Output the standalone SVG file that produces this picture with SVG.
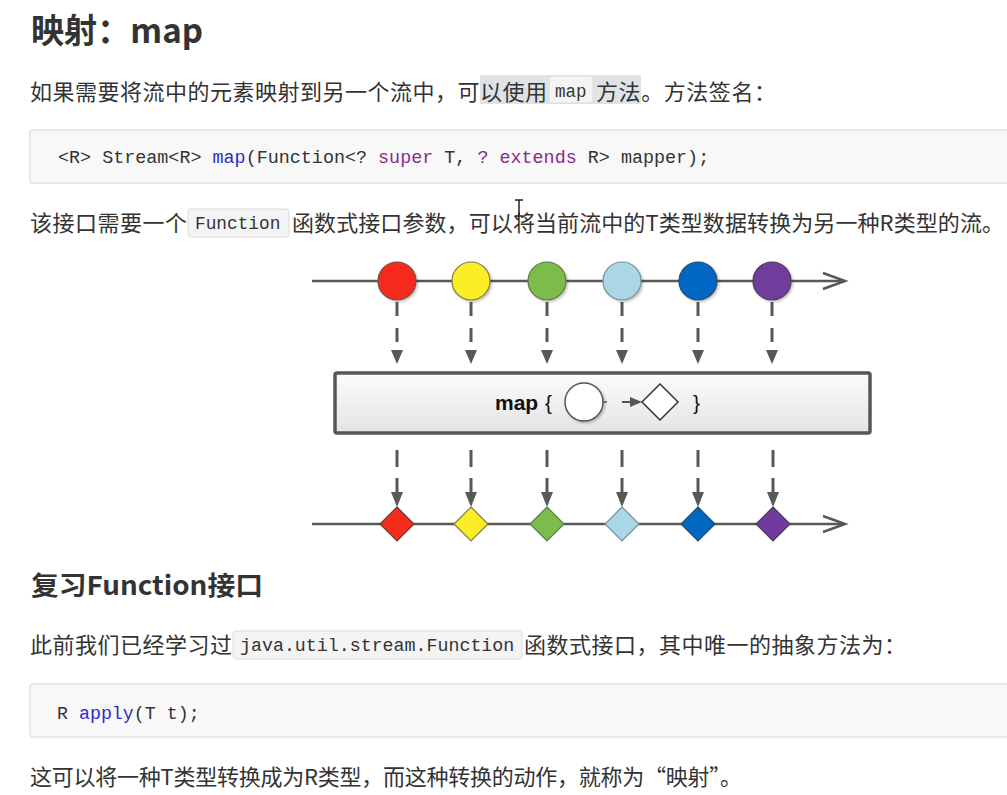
<svg xmlns="http://www.w3.org/2000/svg" width="1007" height="795" viewBox="0 0 1007 795">
<style>
.cjk{font-family:"Noto Sans CJK SC","Liberation Sans",sans-serif;fill:#333;font-size:22px}
.h{font-family:"Noto Sans CJK SC","Liberation Sans",sans-serif;fill:#333;font-weight:bold}
.mono{font-family:"Liberation Mono","DejaVu Sans Mono",monospace;fill:#333}
.kw{fill:#8b2a8b}
.fn{fill:#2b2bc8}
.codeblock{fill:#f8f8f8;stroke:#e2e2e2;stroke-width:1.5}
.inl{fill:#f4f4f4;stroke:#dcdcdc;stroke-width:1}
.flow{stroke:#585858;stroke-width:2.5;fill:none}
.head{fill:none;stroke:#585858;stroke-width:2.5;stroke-linejoin:miter}
.dash{stroke:#585858;stroke-width:3;fill:none}
.tri{fill:#585858}
.mapt{font-family:"Liberation Sans",Arial,sans-serif;fill:#111}
</style>
<defs>
<linearGradient id="boxg" x1="0" y1="0" x2="0" y2="1">
<stop offset="0" stop-color="#fcfcfc"/>
<stop offset="1" stop-color="#e4e4e4"/>
</linearGradient>
<filter id="sh" x="-30%" y="-30%" width="160%" height="160%">
<feDropShadow dx="1.5" dy="1.5" stdDeviation="1" flood-color="#000" flood-opacity="0.25"/>
</filter>
</defs>
<rect width="1007" height="795" fill="#ffffff"/>

<g id="title">
<text class="h" x="31" y="43" font-size="34" textLength="172" lengthAdjust="spacingAndGlyphs">映射：map</text>
</g>

<g id="para1">
<rect x="480" y="75" width="161" height="29" fill="#dfe3e6"/>
<rect class="inl" x="549" y="76" width="44" height="27" rx="3" fill="#eceff1"/>
<text class="cjk" x="30" y="100" textLength="517" lengthAdjust="spacing">如果需要将流中的元素映射到另一个流中，可以使用</text>
<text class="mono" x="555" y="97" font-size="17.5">map</text>
<text class="cjk" x="596" y="100" textLength="180" lengthAdjust="spacing">方法。方法签名：</text>
</g>

<g id="code1">
<rect class="codeblock" x="30" y="130" width="990" height="53" rx="3"/>
<text class="mono" x="58" y="163" font-size="18.4">&lt;R&gt; Stream&lt;R&gt; <tspan class="fn">map</tspan>(Function&lt;? <tspan class="kw">super</tspan> T, <tspan class="kw">? extends</tspan> R&gt; mapper);</text>
</g>

<g id="para2">
<rect class="inl" x="188" y="209" width="101" height="28" rx="3"/>
<text class="cjk" x="30" y="231" textLength="157" lengthAdjust="spacing">该接口需要一个</text>
<text class="mono" x="195" y="229" font-size="17.8">Function</text>
<text class="cjk" x="292" y="231" textLength="712" lengthAdjust="spacing">函数式接口参数，可以将当前流中的T类型数据转换为另一种R类型的流。</text>
</g>

<g id="cursor">
<path d="M515,200 H523 M519,200 V216 M515,216 H523" stroke="#222" stroke-width="1.5" fill="none"/>
</g>

<g id="connectors">
<line class="flow" x1="312" y1="281" x2="844" y2="281"/>
<polyline class="head" points="823,273 845,281 823,289"/>
<line class="flow" x1="312" y1="524" x2="844" y2="524"/>
<polyline class="head" points="823,516 845,524 823,532"/>
<g id="down-top">
<path class="dash" d="M397,302V316M397,328V342M471,302V316M471,328V342M547,302V316M547,328V342M622,302V316M622,328V342M698,302V316M698,328V342M772,302V316M772,328V342"/>
<path class="tri" d="M391,350H403L397,364ZM465,350H477L471,364ZM541,350H553L547,364ZM616,350H628L622,364ZM692,350H704L698,364ZM766,350H778L772,364Z"/>
</g>
<g id="down-bottom">
<path class="dash" d="M397,450V467M397,478V493M471,450V467M471,478V493M547,450V467M547,478V493M622,450V467M622,478V493M698,450V467M698,478V493M773,450V467M773,478V493"/>
<path class="tri" d="M391,492H403L397,507ZM465,492H477L471,507ZM541,492H553L547,507ZM616,492H628L622,507ZM692,492H704L698,507ZM767,492H779L773,507Z"/>
</g>
</g>

<g id="in-red"><circle cx="397" cy="281" r="19" fill="#f42c1c" stroke="#7a4a44" stroke-width="1.2" filter="url(#sh)"/></g>
<g id="in-yellow"><circle cx="471" cy="281" r="19" fill="#fbed25" stroke="#807a44" stroke-width="1.2" filter="url(#sh)"/></g>
<g id="in-green"><circle cx="547" cy="281" r="19" fill="#7dbb4c" stroke="#5b7a46" stroke-width="1.2" filter="url(#sh)"/></g>
<g id="in-lightblue"><circle cx="622" cy="281" r="19" fill="#abd6e5" stroke="#72909a" stroke-width="1.2" filter="url(#sh)"/></g>
<g id="in-blue"><circle cx="698" cy="281" r="19" fill="#0068c2" stroke="#2a4a6a" stroke-width="1.2" filter="url(#sh)"/></g>
<g id="in-purple"><circle cx="772" cy="281" r="19" fill="#6f3c9d" stroke="#4a3a5a" stroke-width="1.2" filter="url(#sh)"/></g>

<g id="map-box">
<rect x="335" y="373" width="535" height="60" rx="2" fill="url(#boxg)" stroke="#575757" stroke-width="3.5"/>
<text class="mapt" x="495" y="410" font-size="21" font-weight="bold">map</text>
<text class="mapt" x="545" y="410" font-size="21">{</text>
<circle cx="584" cy="402" r="19" fill="#fff" stroke="#555" stroke-width="1.5" filter="url(#sh)"/>
<line x1="603" y1="402" x2="607" y2="402" stroke="#555" stroke-width="1.5"/>
<line x1="622" y1="402" x2="632" y2="402" stroke="#555" stroke-width="2"/>
<path d="M630,397 L642,402 L630,407 Z" fill="#555"/>
<path d="M660,384 L678,402 L660,420 L642,402 Z" fill="#fff" stroke="#333" stroke-width="1.5"/>
<text class="mapt" x="693" y="410" font-size="21">}</text>
</g>

<g id="out-red"><path d="M397,507 L414,524 L397,541 L380,524 Z" fill="#f42c1c" stroke="#6a3a34" stroke-width="1.2"/></g>
<g id="out-yellow"><path d="M471,507 L488,524 L471,541 L454,524 Z" fill="#fbed25" stroke="#807a44" stroke-width="1.2"/></g>
<g id="out-green"><path d="M547,507 L564,524 L547,541 L530,524 Z" fill="#7dbb4c" stroke="#5b7a46" stroke-width="1.2"/></g>
<g id="out-lightblue"><path d="M622,507 L639,524 L622,541 L605,524 Z" fill="#abd6e5" stroke="#72909a" stroke-width="1.2"/></g>
<g id="out-blue"><path d="M698,507 L715,524 L698,541 L681,524 Z" fill="#0068c2" stroke="#2a4a6a" stroke-width="1.2"/></g>
<g id="out-purple"><path d="M773,507 L790,524 L773,541 L756,524 Z" fill="#6f3c9d" stroke="#4a3a5a" stroke-width="1.2"/></g>

<g id="heading2">
<text class="h" x="31" y="595" font-size="26" textLength="232" lengthAdjust="spacingAndGlyphs">复习Function接口</text>
</g>

<g id="para3">
<rect class="inl" x="233" y="631" width="289" height="28" rx="3"/>
<text class="cjk" x="30" y="653" textLength="202" lengthAdjust="spacing">此前我们已经学习过</text>
<text class="mono" x="240" y="651" font-size="18.3">java.util.stream.Function</text>
<text class="cjk" x="524" y="653" textLength="382" lengthAdjust="spacing">函数式接口，其中唯一的抽象方法为：</text>
</g>

<g id="code2">
<rect class="codeblock" x="30" y="684" width="990" height="53" rx="3"/>
<text class="mono" x="57" y="719" font-size="18.3">R <tspan class="fn">apply</tspan>(T t);</text>
</g>

<g id="para4">
<text class="cjk" x="30" y="785" textLength="712" lengthAdjust="spacing">这可以将一种T类型转换成为R类型，而这种转换的动作，就称为“映射”。</text>
</g>
</svg>
